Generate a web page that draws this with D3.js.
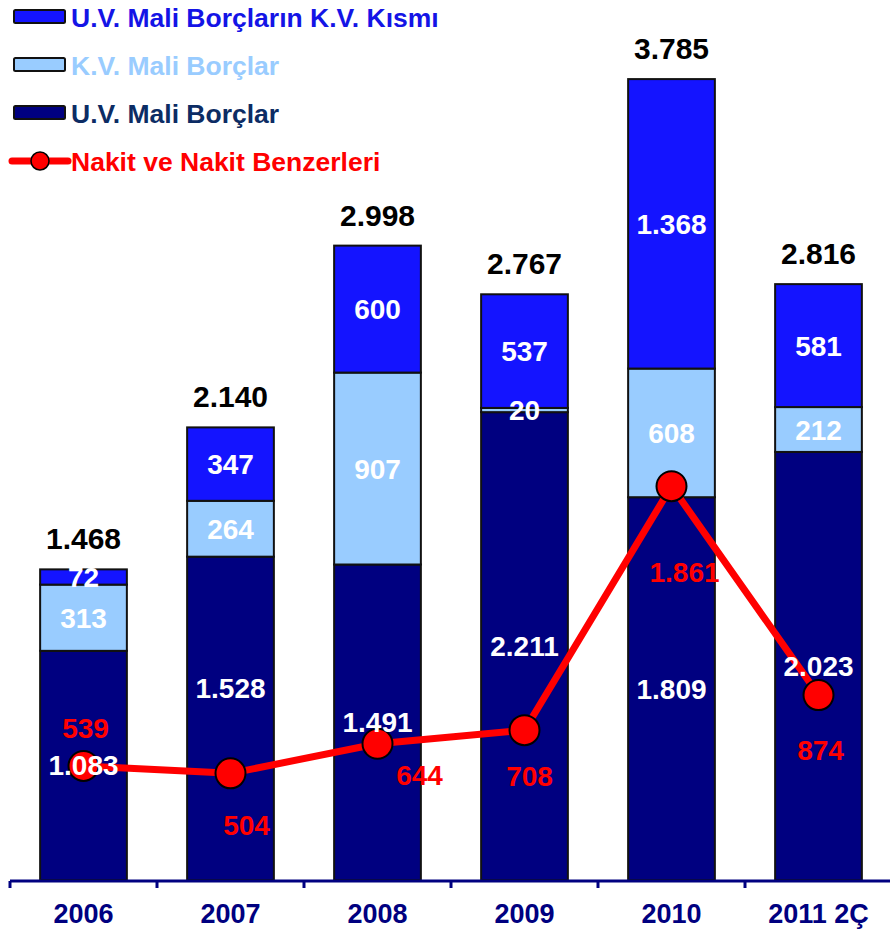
<!DOCTYPE html>
<html>
<head>
<meta charset="utf-8">
<script src="https://cdn.jsdelivr.net/npm/d3@7/dist/d3.min.js"></script>
<style>
  html, body { margin: 0; padding: 0; background: #fff; }
  svg { display: block; font-family: "Liberation Sans", Arial, Helvetica, sans-serif; font-weight: bold; }
</style>
</head>
<body>
<svg id="chart" width="890" height="933"></svg>
<script>
// Categories (years)
const years = ["2006", "2007", "2008", "2009", "2010", "2011 2Ç"];

// Stacked debt series (million TL)
const uvMaliBorclar     = [1083, 1528, 1491, 2211, 1809, 2023]; // U.V. Mali Borçlar
const kvMaliBorclar     = [313, 264, 907, 20, 608, 212];        // K.V. Mali Borçlar
const uvKvKismi         = [72, 347, 600, 537, 1368, 581];       // U.V. Mali Borçların K.V. Kısmı
const toplam            = [1468, 2140, 2998, 2767, 3785, 2816]; // bar totals

// Line series
const nakit             = [539, 504, 644, 708, 1861, 874];      // Nakit ve Nakit Benzerleri

// Legend labels
const legendLabels = [
  "U.V. Mali Borçların K.V. Kısmı",
  "K.V. Mali Borçlar",
  "U.V. Mali Borçlar",
  "Nakit ve Nakit Benzerleri"
];

const fmt = v => d3.format(",")(v).replace(/,/g, ".");

const colors = {
  uvkv: "#1414FF",
  kv: "#99CCFF",
  uv: "#000080",
  line: "#FF0000"
};

const svg = d3.select("#chart");

const baseY = 880;
const x = d3.scaleBand()
  .domain(years)
  .range([10, 892])
  .paddingInner(0.41)
  .paddingOuter(0.205);

const y = d3.scaleLinear()
  .domain([0, 4000])
  .range([baseY, baseY - 4000 * 0.2116]);

// Stack layout
const rows = years.map((yr, i) => ({
  year: yr,
  uv: uvMaliBorclar[i],
  kv: kvMaliBorclar[i],
  uvkv: uvKvKismi[i]
}));
const keys = ["uv", "kv", "uvkv"];
const stacked = d3.stack().keys(keys)(rows);

const barG = svg.append("g");
barG.selectAll("g.series")
  .data(stacked)
  .join("g")
  .attr("class", "series")
  .attr("fill", d => colors[d.key])
  .selectAll("rect")
  .data(d => d)
  .join("rect")
  .attr("x", d => x(d.data.year))
  .attr("width", x.bandwidth())
  .attr("y", d => y(d[1]))
  .attr("height", d => y(d[0]) - y(d[1]))
  .attr("stroke", "#111")
  .attr("stroke-width", 2);

// Axis: baseline, separators between categories, labels
const axisG = svg.append("g");
axisG.append("line")
  .attr("x1", 10).attr("x2", 890)
  .attr("y1", baseY + 1).attr("y2", baseY + 1)
  .attr("stroke", "#000080").attr("stroke-width", 3);
const step = x.step();
const sepX = d3.range(years.length + 1).map(i => x.range()[0] + i * step);
axisG.selectAll("line.sep")
  .data(sepX)
  .join("line")
  .attr("class", "sep")
  .attr("x1", d => d).attr("x2", d => d)
  .attr("y1", baseY + 1).attr("y2", baseY + 8)
  .attr("stroke", "#000080").attr("stroke-width", 3);

const xAxis = d3.axisBottom(x).tickSize(0).tickPadding(0);
const xg = svg.append("g")
  .attr("transform", `translate(0,${baseY})`)
  .call(xAxis);
xg.select(".domain").remove();
xg.selectAll("text")
  .attr("y", 43)
  .attr("dy", 0)
  .attr("font-size", 27)
  .attr("font-family", "'Liberation Sans', Arial, sans-serif")
  .attr("font-weight", "bold")
  .attr("fill", "#000080");

// Line for cash and cash equivalents
const cx = i => x(years[i]) + x.bandwidth() / 2;
const lineGen = d3.line()
  .x((d, i) => cx(i))
  .y(d => y(d));
svg.append("path")
  .datum(nakit)
  .attr("d", lineGen)
  .attr("fill", "none")
  .attr("stroke", colors.line)
  .attr("stroke-width", 7)
  .attr("stroke-linejoin", "round");

svg.append("g")
  .selectAll("circle")
  .data(nakit)
  .join("circle")
  .attr("cx", (d, i) => cx(i))
  .attr("cy", d => y(d))
  .attr("r", 15)
  .attr("fill", colors.line)
  .attr("stroke", "#000")
  .attr("stroke-width", 2);

// Segment labels (white, centred in segment)
const uvShift = [0, -30, 0, 0, 0, 0];
const segLabels = svg.append("g")
  .attr("fill", "#fff")
  .attr("font-size", 28)
  .attr("text-anchor", "middle");
stacked.forEach(s => {
  s.forEach((d, i) => {
    const mid = (y(d[0]) + y(d[1])) / 2 + (s.key === "uv" ? uvShift[i] : 0);
    segLabels.append("text")
      .attr("x", cx(i))
      .attr("y", mid)
      .attr("dy", "0.36em")
      .text(fmt(d.data[s.key]));
  });
});

// Totals above bars
svg.append("g")
  .attr("font-size", 30)
  .attr("text-anchor", "middle")
  .attr("fill", "#000")
  .selectAll("text")
  .data(toplam)
  .join("text")
  .attr("x", (d, i) => cx(i))
  .attr("y", (d, i) => y(stacked[2][i][1]) - 20)
  .text(d => fmt(d));

// Cash labels
const cashOffset = [[2, -38], [16, 52], [42, 31], [5, 46], [13, 86], [2, 55]];
svg.append("g")
  .attr("font-size", 28)
  .attr("text-anchor", "middle")
  .attr("fill", colors.line)
  .selectAll("text")
  .data(nakit)
  .join("text")
  .attr("x", (d, i) => cx(i) + cashOffset[i][0])
  .attr("y", (d, i) => y(d) + cashOffset[i][1])
  .attr("dy", "0.36em")
  .text(d => fmt(d));

// Legend
const legendColors = [colors.uvkv, colors.kv, colors.uv];
const legendText = ["#1414E6", "#99CCFF", "#0C2C64", "#FF0000"];
const rowY = [17, 65, 113, 161];
const lg = svg.append("g");
legendLabels.forEach((lab, i) => {
  if (i < 3) {
    lg.append("rect")
      .attr("x", 14).attr("y", rowY[i] - 7)
      .attr("width", 51).attr("height", 13)
      .attr("rx", 1.5)
      .attr("fill", legendColors[i])
      .attr("stroke", "#111").attr("stroke-width", 2);
  } else {
    lg.append("line")
      .attr("x1", 12).attr("x2", 68)
      .attr("y1", rowY[i]).attr("y2", rowY[i])
      .attr("stroke", colors.line).attr("stroke-width", 7)
      .attr("stroke-linecap", "round");
    lg.append("circle")
      .attr("cx", 40).attr("cy", rowY[i]).attr("r", 9)
      .attr("fill", colors.line)
      .attr("stroke", "#000").attr("stroke-width", 1.5);
  }
  lg.append("text")
    .attr("x", 71).attr("y", rowY[i])
    .attr("dy", "0.36em")
    .attr("font-size", 26.5)
    .attr("fill", legendText[i])
    .text(lab);
});
</script>
</body>
</html>
